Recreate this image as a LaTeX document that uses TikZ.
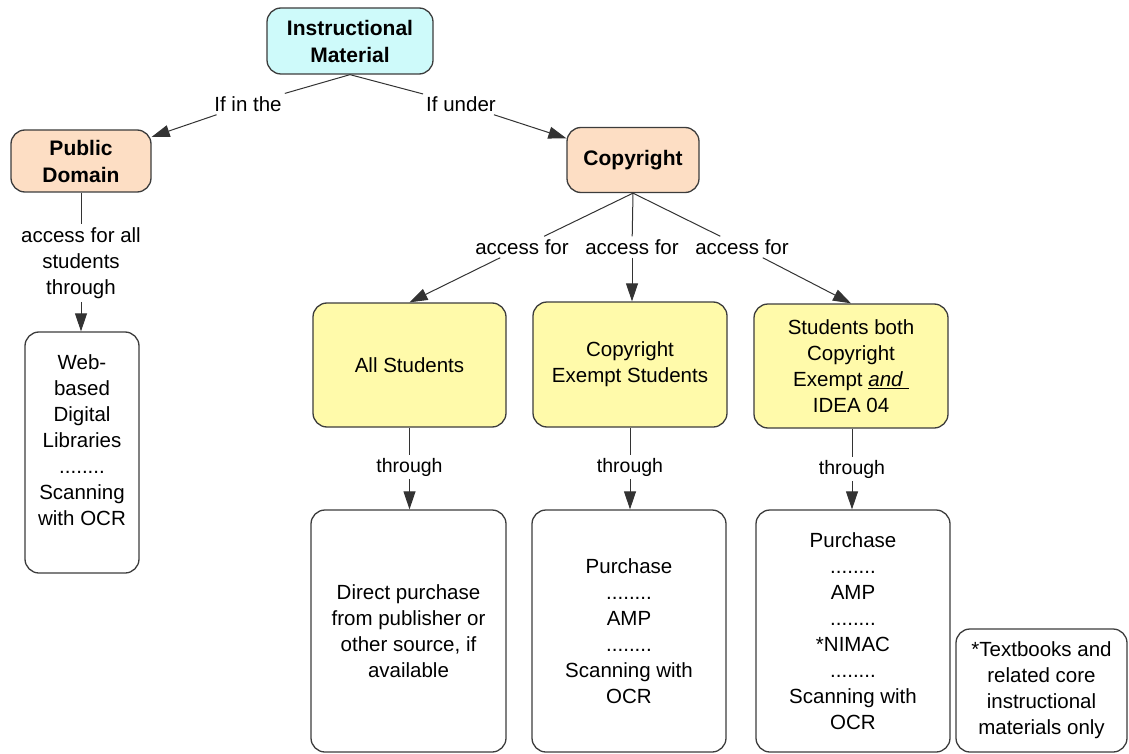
\documentclass[tikz,border=0pt]{standalone}
\usepackage{fontspec}
\setmainfont{Liberation Sans}
\usetikzlibrary{arrows.meta}
\definecolor{cyanfill}{RGB}{206,250,250}
\definecolor{peach}{RGB}{253,222,196}
\definecolor{yel}{RGB}{255,250,170}
\definecolor{edge}{RGB}{60,60,60}
\begin{document}
\begin{tikzpicture}[x=1pt,y=-1pt,
  box/.style={draw=edge, line width=1.3pt, rounded corners=14pt, align=center, inner sep=0pt, font=\fontsize{20.5}{26}\selectfont},
  boldbox/.style={box, font=\fontsize{21}{27}\selectfont\bfseries},
  lab/.style={align=center, inner sep=3pt, font=\fontsize{20.5}{26}\selectfont},
  smalllab/.style={align=center, inner sep=3pt, font=\fontsize{19.5}{24}\selectfont},
  conn/.style={draw=black!80, line width=1pt},
  arr/.style={conn, -{Triangle[length=18pt,width=12pt]}},
]
\useasboundingbox (0,0) rectangle (1129,754);
% main boxes
\node[boldbox, fill=cyanfill, minimum width=166pt, minimum height=66pt] (im) at (350,41) {Instructional\\Material};
\node[boldbox, fill=peach, minimum width=140pt, minimum height=62pt] (pd) at (81,161) {Public\\Domain};
\node[boldbox, fill=peach, minimum width=132pt, minimum height=65pt] (cr) at (633,160) {Copyright};
\node[box, minimum width=114pt, minimum height=241pt] (web) at (82,452.5) {};
\node[lab, inner sep=0pt] (webtext) at (82,440) {Web-\\based\\Digital\\Libraries\\........\\Scanning\\with OCR};
\node[box, fill=yel, minimum width=193pt, minimum height=124pt] (as) at (409.5,365) {All Students};
\node[box, fill=yel, minimum width=194pt, minimum height=125pt] (ces) at (630,364.5) {Copyright\\Exempt Students};
\node[box, fill=yel, minimum width=194pt, minimum height=124pt] (sb) at (851,366) {Students both\\Copyright\\Exempt \underline{\textit{and}\ }\\IDEA 04};
\node[box, minimum width=195pt, minimum height=242pt] (dp) at (408.5,631) {Direct purchase\\from publisher or\\other source, if\\available};
\node[box, minimum width=194pt, minimum height=242pt] (pur) at (629,631) {Purchase\\........\\AMP\\........\\Scanning with\\OCR};
\node[box, minimum width=194pt, minimum height=242pt] (pur2) at (853,631) {Purchase\\........\\AMP\\........\\*NIMAC\\........\\Scanning with\\OCR};
\node[box, minimum width=171pt, minimum height=123pt] (foot) at (1041.5,690.5) {*Textbooks and\\related core\\instructional\\materials only};
% labels
\node[lab] (ifin) at (248,104) {If in the};
\node[lab] (ifunder) at (461,104) {If under};
\node[lab] (pdlab) at (81,263) {access for all\\students\\through};
\node[lab] (acc1) at (522,247) {access for};
\node[lab] (acc2) at (632,247) {access for};
\node[lab] (acc3) at (742,247) {access for};
\node[smalllab] (thr1) at (409.5,467) {through};
\node[smalllab] (thr2) at (630,467) {through};
\node[smalllab] (thr3) at (852,469) {through};
% connectors
\draw[conn] (im.south) -- (ifin);
\draw[arr] (ifin) -- (pd);
\draw[conn] (im.south) -- (ifunder);
\draw[arr] (ifunder) -- (cr);
\draw[conn] (pd.south) -- (pdlab);
\draw[arr] (pdlab) -- (pdlab |- web.north);
\draw[conn] (cr.south) -- (acc1);
\draw[conn] (cr.south) -- (acc2);
\draw[conn] (cr.south) -- (acc3);
\draw[arr] (acc1) -- (as.north);
\draw[arr] (acc2) -- (acc2 |- ces.north);
\draw[arr] (acc3) -- (sb.north);
\draw[conn] (as.south) -- (thr1);
\draw[arr] (thr1) -- (thr1 |- dp.north);
\draw[conn] (ces.south) -- (thr2);
\draw[arr] (thr2) -- (thr2 |- pur.north);
\draw[conn] (thr3 |- sb.south) -- (thr3);
\draw[arr] (thr3) -- (thr3 |- pur2.north);
\end{tikzpicture}
\end{document}
